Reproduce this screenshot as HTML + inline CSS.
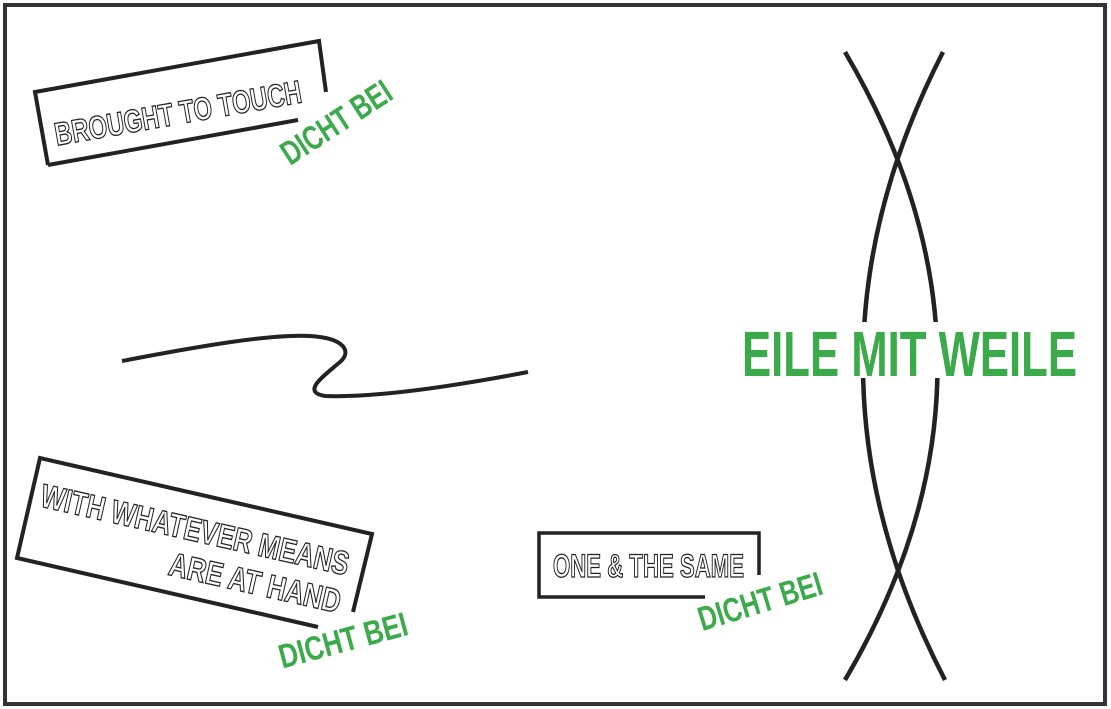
<!DOCTYPE html>
<html><head><meta charset="utf-8"><style>
html,body{margin:0;padding:0;background:#fff;}
svg{display:block;}
.o{font-family:"Liberation Sans Narrow","Liberation Sans",sans-serif;font-weight:bold;fill:#fff;stroke:#222;stroke-width:1.3;}
.g{font-family:"Liberation Sans Narrow","Liberation Sans",sans-serif;font-weight:bold;fill:#3aaa4a;}
</style></head><body>
<svg width="1111" height="709" viewBox="0 0 1111 709" xmlns="http://www.w3.org/2000/svg">
<rect x="0" y="0" width="1111" height="709" fill="#fff"/>
<rect x="5" y="5" width="1100" height="699" fill="none" stroke="#333" stroke-width="4"/>

<path d="M845,52 Q1030,366 845,680" fill="none" stroke="#222" stroke-width="4.5"/>
<path d="M943,52 Q782,366 945,680" fill="none" stroke="#222" stroke-width="4.5"/>
<rect x="845" y="322" width="110" height="56" fill="#fff"/>
<text class="g" x="742" y="376" font-size="64" textLength="335" lengthAdjust="spacingAndGlyphs">EILE MIT WEILE</text>

<path d="M122,361 C200,346 270,334 310,336 C345,338 352,352 340,362 C325,375 300,392 325,396 C380,398 460,385 528,372" fill="none" stroke="#222" stroke-width="4"/>

<path d="M48,165 L35,92 L319,41 L326,92" fill="none" stroke="#222" stroke-width="4"/>
<path d="M48,165 L298,120" fill="none" stroke="#222" stroke-width="4"/>
<g transform="translate(178,113) rotate(-10)">
<text class="o" x="0" y="11" font-size="32" text-anchor="middle" textLength="250" lengthAdjust="spacingAndGlyphs">BROUGHT TO TOUCH</text></g>
<g transform="translate(336,122) rotate(-33)">
<text class="g" x="0" y="12" font-size="34" text-anchor="middle" textLength="125" lengthAdjust="spacingAndGlyphs">DICHT BEI</text></g>

<path d="M318,627 L17,558 L40,458 L372,534 L353,612" fill="none" stroke="#222" stroke-width="4"/>
<g transform="translate(195,530) rotate(12.7)">
<text class="o" x="0" y="11" font-size="33" text-anchor="middle" textLength="315" lengthAdjust="spacingAndGlyphs">WITH WHATEVER MEANS</text></g>
<g transform="translate(255,583) rotate(12.7)">
<text class="o" x="0" y="11" font-size="33" text-anchor="middle" textLength="175" lengthAdjust="spacingAndGlyphs">ARE AT HAND</text></g>
<g transform="translate(343,640) rotate(-15)">
<text class="g" x="0" y="12" font-size="34" text-anchor="middle" textLength="132" lengthAdjust="spacingAndGlyphs">DICHT BEI</text></g>

<path d="M705,597 L539,597 L539,533 L759,533 L759,575" fill="none" stroke="#222" stroke-width="3.5"/>
<text class="o" x="553" y="577" font-size="32" textLength="191" lengthAdjust="spacingAndGlyphs">ONE &amp; THE SAME</text>
<g transform="translate(760,601) rotate(-17)">
<text class="g" x="0" y="12" font-size="34" text-anchor="middle" textLength="128" lengthAdjust="spacingAndGlyphs">DICHT BEI</text></g>
</svg>
</body></html>
